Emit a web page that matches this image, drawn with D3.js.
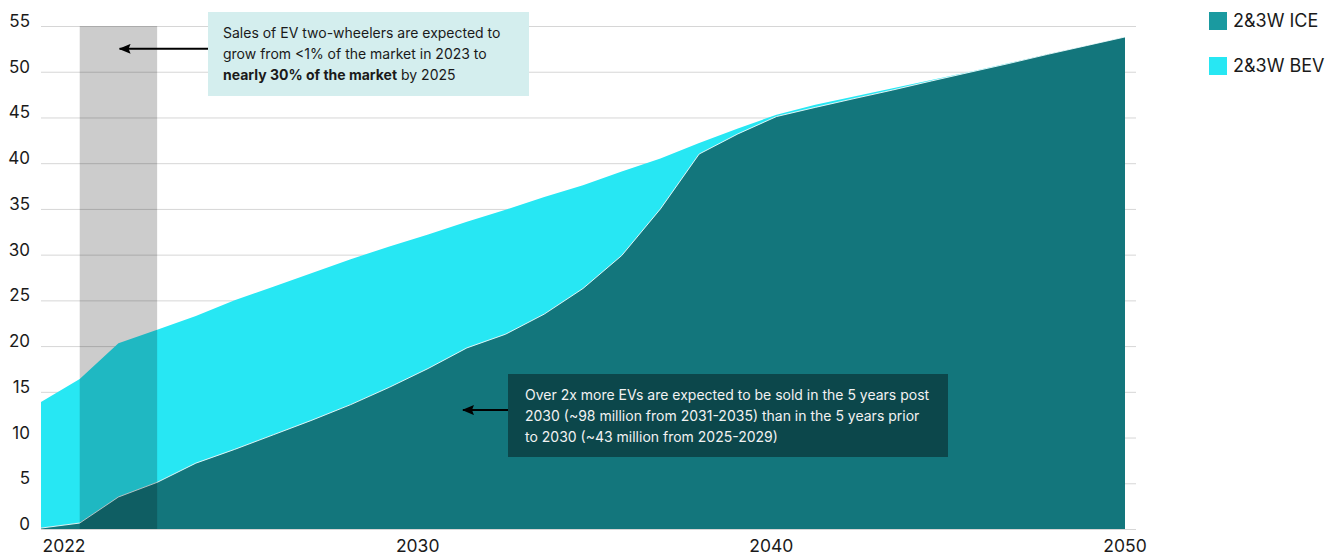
<!DOCTYPE html>
<html>
<head>
<meta charset="utf-8">
<script src="https://cdn.jsdelivr.net/npm/d3@7"></script>
<style>
  html, body { margin: 0; padding: 0; background: #fff; }
  svg { display: block; font-family: Inter, "Liberation Sans", Arial, sans-serif; }
</style>
</head>
<body>
<svg id="chart" width="1332" height="556"></svg>
<script>
// Annual sales, millions of units
const years = d3.range(2022, 2051);
const iceValues = [
  0.1, 0.65, 3.5, 5.1, 7.2, 8.7, 10.3, 11.9, 13.6, 15.5,
  17.55, 19.8, 21.3, 23.5, 26.3, 29.9, 35.0, 41.0, 43.2, 45.1,
  46.1, 47.06, 48.0, 48.99, 49.95, 50.9, 51.9, 52.85, 53.8
];
const bevValues = [
  13.9, 16.4, 20.3, 21.8, 23.3, 25.0, 26.5, 28.0, 29.5, 30.9,
  32.2, 33.6, 34.9, 36.3, 37.6, 39.1, 40.5, 42.2, 43.8, 45.3,
  46.4, 47.3, 48.2, 49.1, 50.0, 50.95, 51.9, 52.85, 53.8
];
const yTicks = [0, 5, 10, 15, 20, 25, 30, 35, 40, 45, 50, 55];
const xTickLabels = ["2022", "2030", "2040", "2050"];
const highlightSpan = [2023, 2025];
const seriesNames = ["2&3W ICE", "2&3W BEV"];
const seriesColors = ["#1a9aa0", "#27e7f3"];

const svg = d3.select("#chart");

const x = d3.scaleLinear().domain([2022, 2050]).range([41, 1125]);
const y = d3.scaleLinear().domain([0, 55]).range([529, 26]);
const xLabelPos = d3.scalePoint().domain(xTickLabels).range([64, 1125]);

// Horizontal gridlines
svg.append("g")
  .selectAll("line")
  .data(yTicks)
  .join("line")
  .attr("x1", 41).attr("x2", 1136)
  .attr("y1", d => y(d) + 0.5).attr("y2", d => y(d) + 0.5)
  .attr("stroke", "#d6d6d6")
  .attr("stroke-width", 1);

const bevData = years.map((yr, i) => ({ yr, v: bevValues[i] }));
const iceData = years.map((yr, i) => ({ yr, v: iceValues[i] }));

const area = d3.area()
  .x(d => x(d.yr))
  .y0(y(0))
  .y1(d => y(d.v));
const line = d3.line()
  .x(d => x(d.yr))
  .y(d => y(d.v));

// BEV area behind
svg.append("path")
  .datum(bevData)
  .attr("d", area)
  .attr("fill", "#27e7f3");

// ICE area in front, with a thin light edge along its top
svg.append("path")
  .datum(iceData)
  .attr("d", area)
  .attr("fill", "#13767c");
svg.append("path")
  .datum(iceData)
  .attr("d", line)
  .attr("fill", "none")
  .attr("stroke", "rgba(255,255,255,0.85)")
  .attr("stroke-width", 1);

// Highlighted period
svg.append("rect")
  .attr("x", x(highlightSpan[0]))
  .attr("width", x(highlightSpan[1]) - x(highlightSpan[0]))
  .attr("y", y(55))
  .attr("height", y(0) - y(55))
  .attr("fill", "rgba(0,0,0,0.2)");

// Y axis labels
svg.append("g")
  .selectAll("text")
  .data(yTicks)
  .join("text")
  .attr("x", 30)
  .attr("y", d => y(d) + 1)
  .attr("text-anchor", "end")
  .attr("font-size", 17)
  .attr("fill", "#1a1a1a")
  .text(d => d);

// X axis labels
svg.append("g")
  .selectAll("text")
  .data(xTickLabels)
  .join("text")
  .attr("x", d => xLabelPos(d))
  .attr("y", 552)
  .attr("text-anchor", "middle")
  .attr("font-size", 17.5)
  .attr("fill", "#1a1a1a")
  .text(d => d);

// Arrow marker
svg.append("defs").append("marker")
  .attr("id", "arrowhead")
  .attr("viewBox", "0 0 12 10")
  .attr("refX", 11).attr("refY", 5)
  .attr("markerWidth", 12).attr("markerHeight", 10)
  .attr("markerUnits", "userSpaceOnUse")
  .attr("orient", "auto")
  .append("path")
  .attr("d", "M0,0 L12,5 L0,10 L2,5 Z")
  .attr("fill", "#000");

// Annotation 1
svg.append("rect")
  .attr("x", 208).attr("y", 12)
  .attr("width", 321).attr("height", 84)
  .attr("fill", "#d4eeee");
svg.append("line")
  .attr("x1", 208).attr("y1", y(52.5))
  .attr("x2", x(2024.03)).attr("y2", y(52.5))
  .attr("stroke", "#000").attr("stroke-width", 2)
  .attr("marker-end", "url(#arrowhead)");
const t1 = svg.append("text")
  .attr("font-size", 14)
  .attr("fill", "#1a1a1a");
t1.append("tspan").attr("x", 223).attr("y", 38).text("Sales of EV two-wheelers are expected to");
t1.append("tspan").attr("x", 223).attr("y", 59).text("grow from <1% of the market in 2023 to");
t1.append("tspan").attr("x", 223).attr("y", 80).attr("font-weight", "bold").text("nearly 30% of the market");
t1.append("tspan").text(" by 2025");

// Annotation 2
svg.append("rect")
  .attr("x", 508).attr("y", 374)
  .attr("width", 440).attr("height", 83)
  .attr("fill", "#0c474b");
svg.append("line")
  .attr("x1", 508).attr("y1", y(13))
  .attr("x2", x(2032.9)).attr("y2", y(13))
  .attr("stroke", "#000").attr("stroke-width", 2)
  .attr("marker-end", "url(#arrowhead)");
const t2 = svg.append("text")
  .attr("font-size", 14)
  .attr("fill", "#f2f2f2");
[
  "Over 2x more EVs are expected to be sold in the 5 years post",
  "2030 (~98 million from 2031-2035) than in the 5 years prior",
  "to 2030 (~43 million from 2025-2029)"
].forEach((s, i) => {
  t2.append("tspan").attr("x", 525).attr("y", 400 + i * 21).text(s);
});

// Legend
const legend = svg.append("g")
  .selectAll("g")
  .data(seriesNames)
  .join("g")
  .attr("transform", (d, i) => `translate(1209, ${12 + i * 45})`);
legend.append("rect")
  .attr("width", 18).attr("height", 18)
  .attr("fill", (d, i) => seriesColors[i]);
legend.append("text")
  .attr("x", 24).attr("y", 14.5)
  .attr("font-size", 18)
  .attr("fill", "#1a1a1a")
  .text(d => d);
</script>
</body>
</html>
